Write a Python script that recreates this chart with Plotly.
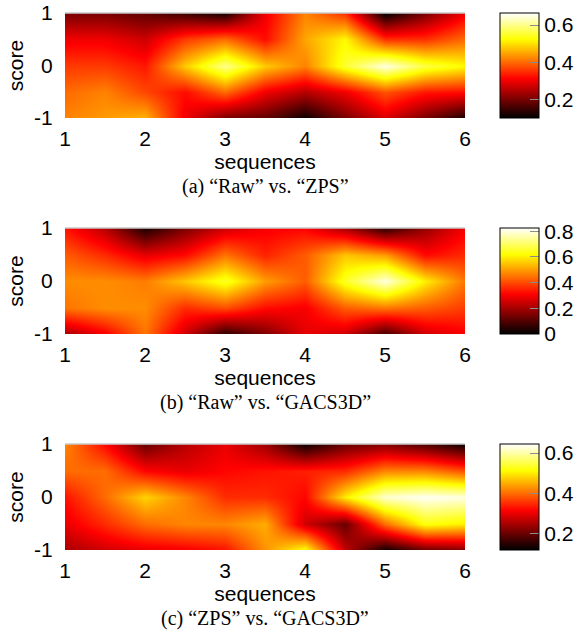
import plotly.graph_objects as go

seq = [1, 1.5, 2, 2.5, 3, 3.5, 4, 4.5, 5, 5.5, 6]
score = [-1, -0.5, 0, 0.5, 1]

# rows: score -1, -0.5, 0, 0.5, 1
raw_vs_zps = [
    [0.42, 0.44, 0.46, 0.30, 0.20, 0.18, 0.11, 0.20, 0.28, 0.20, 0.12],
    [0.40, 0.42, 0.37, 0.32, 0.40, 0.30, 0.25, 0.30, 0.38, 0.33, 0.32],
    [0.36, 0.36, 0.33, 0.48, 0.60, 0.48, 0.42, 0.55, 0.65, 0.56, 0.52],
    [0.30, 0.30, 0.27, 0.36, 0.40, 0.32, 0.45, 0.52, 0.35, 0.35, 0.40],
    [0.20, 0.20, 0.18, 0.15, 0.12, 0.30, 0.42, 0.35, 0.10, 0.20, 0.30],
]
raw_vs_gacs3d = [
    [0.20, 0.30, 0.45, 0.25, 0.05, 0.15, 0.28, 0.25, 0.08, 0.25, 0.30],
    [0.45, 0.48, 0.48, 0.36, 0.40, 0.32, 0.30, 0.42, 0.45, 0.42, 0.38],
    [0.48, 0.48, 0.46, 0.55, 0.65, 0.50, 0.42, 0.65, 0.80, 0.60, 0.45],
    [0.42, 0.36, 0.28, 0.32, 0.45, 0.35, 0.42, 0.55, 0.50, 0.32, 0.36],
    [0.33, 0.22, 0.03, 0.15, 0.25, 0.30, 0.31, 0.20, 0.05, 0.18, 0.30],
]
zps_vs_gacs3d = [
    [0.25, 0.28, 0.30, 0.31, 0.33, 0.43, 0.52, 0.27, 0.13, 0.20, 0.22],
    [0.30, 0.35, 0.40, 0.42, 0.42, 0.45, 0.28, 0.20, 0.40, 0.52, 0.50],
    [0.33, 0.40, 0.48, 0.42, 0.35, 0.35, 0.32, 0.50, 0.62, 0.64, 0.63],
    [0.40, 0.40, 0.32, 0.30, 0.32, 0.33, 0.34, 0.35, 0.42, 0.42, 0.38],
    [0.42, 0.32, 0.20, 0.26, 0.30, 0.24, 0.13, 0.20, 0.22, 0.18, 0.13],
]
captions = ["(a) \u201cRaw\u201d vs. \u201cZPS\u201d",
            "(b) \u201cRaw\u201d vs. \u201cGACS3D\u201d",
            "(c) \u201cZPS\u201d vs. \u201cGACS3D\u201d"]
zranges = [(0.10, 0.665), (0.0, 0.825), (0.12, 0.645)]
cb_ticks = [[0.2, 0.4, 0.6], [0, 0.2, 0.4, 0.6, 0.8], [0.2, 0.4, 0.6]]
cb_text = [["0.2", "0.4", "0.6"], ["0", "0.2", "0.4", "0.6", "0.8"], ["0.2", "0.4", "0.6"]]
x_ticks = [1, 2, 3, 4, 5, 6]
x_text = ["1", "2", "3", "4", "5", "6"]
y_ticks = [-1, 0, 1]
y_text = ["-1", "0", "1"]

hot = [[0, "rgb(0,0,0)"], [0.375, "rgb(255,0,0)"], [0.75, "rgb(255,255,0)"], [1, "rgb(255,255,255)"]]

W, H = 577, 640
boxes = [(13, 118), (228, 334), (444, 550)]
x0, x1 = 65, 465
cbx = 500

fig = go.Figure()
datasets = [raw_vs_zps, raw_vs_gacs3d, zps_vs_gacs3d]
sans = "Liberation Sans, Arial, sans-serif"
serif = "Liberation Serif, Times New Roman, serif"
FS = 21
for i, z in enumerate(datasets):
    top, bot = boxes[i]
    yd = [1 - bot / H, 1 - top / H]
    ax = "" if i == 0 else str(i + 1)
    fig.add_trace(go.Heatmap(
        x=seq, y=score, z=z, zsmooth="best", colorscale=hot,
        zmin=zranges[i][0], zmax=zranges[i][1],
        xaxis="x" + ax, yaxis="y" + ax,
        colorbar=dict(
            x=cbx / W, xanchor="left", xpad=0,
            y=(yd[0] + yd[1]) / 2, yanchor="middle", ypad=0,
            len=bot - top, lenmode="pixels", thickness=39, thicknessmode="pixels",
            outlinewidth=1, outlinecolor="black",
            tickvals=cb_ticks[i], ticktext=cb_text[i],
            ticks="inside", ticklen=9, tickcolor="rgb(140,140,140)", tickwidth=1,
            ticklabelposition="outside",
            tickfont=dict(family=sans, size=FS, color="black"),
        ),
    ))
    fig.update_layout(**{
        "xaxis" + ax: dict(domain=[x0 / W, x1 / W], range=[1, 6], tickvals=x_ticks,
                           ticktext=x_text, automargin=False,
                           anchor="y" + ax, showgrid=False, zeroline=False,
                           ticks="outside", ticklen=2, tickcolor="rgba(0,0,0,0)",
                           tickfont=dict(family=sans, size=FS, color="black"),
                           title=dict(text="sequences", standoff=1,
                                      font=dict(family=sans, size=FS, color="black"))),
        "yaxis" + ax: dict(domain=yd, range=[-1, 1], tickvals=y_ticks,
                           ticktext=y_text, automargin=False,
                           anchor="x" + ax, showgrid=False, zeroline=False,
                           ticks="outside", ticklen=7, tickcolor="rgba(0,0,0,0)",
                           ticklabeloverflow="allow",
                           tickfont=dict(family=sans, size=FS, color="black"),
                           title=dict(text="score", standoff=4,
                                      font=dict(family=sans, size=FS, color="black"))),
    })
    fig.add_annotation(text=captions[i], x=(x0 + x1) / 2 / W, xref="paper",
                       y=1 - (bot + 68) / H, yref="paper", showarrow=False,
                       font=dict(family=serif, size=20, color="black"),
                       xanchor="center", yanchor="middle")
    fig.add_shape(type="line", xref="paper", yref="paper", x0=x0 / W, x1=x1 / W,
                  y0=yd[1], y1=yd[1], line=dict(color="rgb(200,200,200)", width=1.5))

fig.update_layout(width=W, height=H, margin=dict(l=0, r=0, t=0, b=0, autoexpand=False),
                  paper_bgcolor="white", plot_bgcolor="white", showlegend=False)
fig.write_html("out.html", config={"displayModeBar": False},
               post_script="document.body.style.margin='0';document.body.style.overflow='hidden';")
